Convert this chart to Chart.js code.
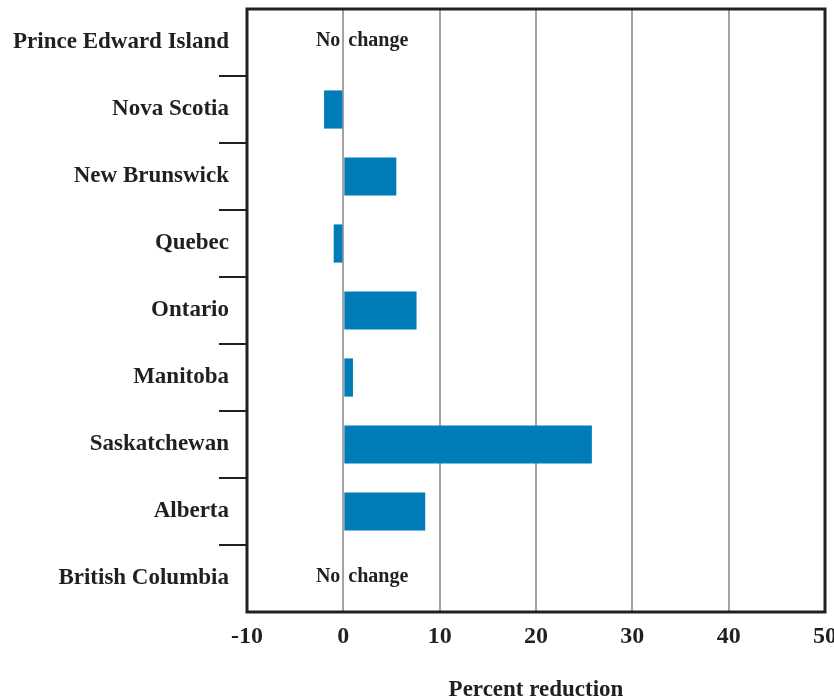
<!DOCTYPE html>
<html>
<head>
<meta charset="utf-8">
<script src="https://cdn.jsdelivr.net/npm/chart.js@4.4.1/dist/chart.umd.min.js"></script>
<style>
	html, body { margin: 0; padding: 0; background: #fff; overflow: hidden; }
	#wrap { width: 847px; height: 700px; position: relative; }
</style>
</head>
<body>
<div id="wrap"><canvas id="chart-prov"></canvas></div>
<script>
// provinces, top to bottom
const provinces = ['Prince Edward Island', 'Nova Scotia', 'New Brunswick', 'Quebec', 'Ontario', 'Manitoba', 'Saskatchewan', 'Alberta', 'British Columbia']
// percent reduction (null = no change)
const reduction = [null, -2, 5.5, -1, 7.6, 1, 25.8, 8.5, null]
const noChangeText = 'No change'
const xTicks = [-10, 0, 10, 20, 30, 40, 50]
const axisTitle = 'Percent reduction'

const ink = '#231f20'
const serif = 'Liberation Serif'

// black box round the plot, and the "No change" notes
const framePlugin = {
	id: 'frame',
	afterDatasetsDraw(chart) {
		const { ctx, chartArea, scales } = chart
		ctx.save()
		ctx.strokeStyle = ink
		ctx.lineWidth = 3
		ctx.strokeRect(chartArea.left, chartArea.top, chartArea.right - chartArea.left, chartArea.bottom - chartArea.top)

		const zero = scales.x.getPixelForValue(0)
		const words = noChangeText.split(' ')
		ctx.fillStyle = ink
		ctx.font = 'bold 20px "' + serif + '"'
		ctx.textBaseline = 'middle'
		reduction.forEach((v, i) => {
			if (v !== null) return
			const y = scales.y.getPixelForValue(i) - 2
			ctx.textAlign = 'right'
			ctx.fillText(words[0], zero - 3, y)
			ctx.textAlign = 'left'
			ctx.fillText(words[1], zero + 5, y)
		})
		ctx.restore()
	}
}

const provChart = new Chart(document.getElementById('chart-prov').getContext('2d'), {
	type: 'bar',
	data: {
		labels: provinces,
		datasets: [{
			data: reduction,
			backgroundColor: '#007db8',
			borderWidth: 0,
			categoryPercentage: 1,
			barPercentage: 0.57
		}]
	},
	options: {
		indexAxis: 'y',
		responsive: true,
		maintainAspectRatio: false,
		animation: false,
		layout: { padding: { top: 9, left: 0, right: 0, bottom: 0 } },
		plugins: { legend: { display: false }, tooltip: { enabled: false } },
		scales: {
			x: {
				min: xTicks[0],
				max: xTicks[xTicks.length - 1],
				afterBuildTicks: scale => { scale.ticks = xTicks.map(v => ({ value: v })) },
				grid: {
					drawTicks: false,
					lineWidth: 2,
					color: ctx => (ctx.tick && ctx.tick.value > xTicks[0] && ctx.tick.value < xTicks[xTicks.length - 1]) ? '#a3a3a3' : 'rgba(0,0,0,0)'
				},
				border: { display: false },
				ticks: {
					padding: 10,
					color: ink,
					font: { family: serif, size: 24, weight: 'bold' }
				},
				title: {
					display: true,
					text: axisTitle,
					color: ink,
					font: { family: serif, size: 23, weight: 'bold' },
					padding: { top: 0, bottom: -4 }
				},
				afterFit: scale => { scale.height = 88 }
			},
			y: {
				grid: {
					offset: true,
					drawOnChartArea: false,
					tickLength: 28,
					lineWidth: 2,
					color: ctx => (ctx.type === 'tick' && ctx.index > 0) ? ink : 'rgba(0,0,0,0)'
				},
				border: { display: false },
				ticks: {
					padding: -10,
					color: ink,
					font: { family: serif, size: 23, weight: 'bold' }
				},
				afterFit: scale => { scale.width = 247 }
			}
		}
	},
	plugins: [framePlugin]
})
</script>
</body>
</html>
